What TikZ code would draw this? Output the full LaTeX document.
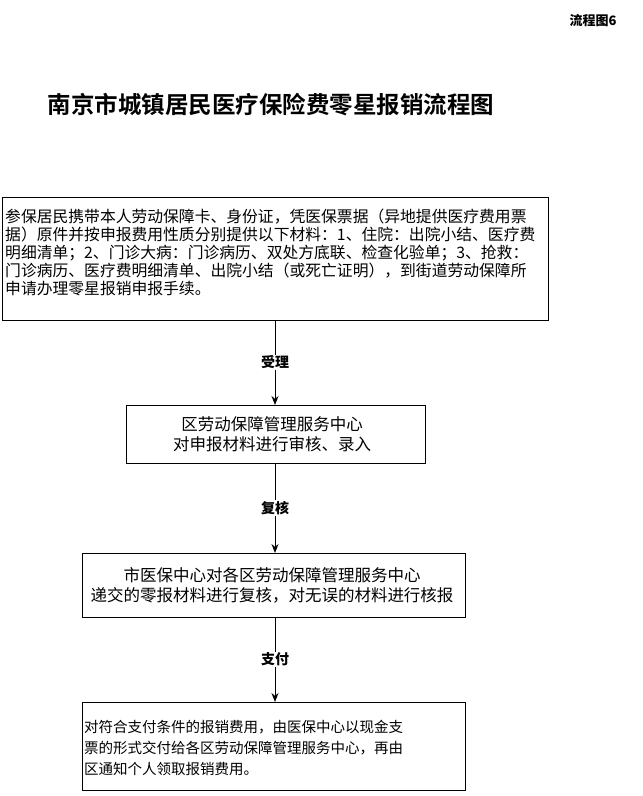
\documentclass[tikz,border=0pt]{standalone}
\usepackage{fontspec}
\setmainfont{Noto Sans CJK SC}
\newfontfamily\titlefont{Noto Sans CJK SC Bold}
\newfontfamily\medfont{Noto Sans CJK SC Medium}
\usetikzlibrary{arrows.meta}
\begin{document}
\begin{tikzpicture}[x=1pt,y=-1pt,
  box/.style={draw,line width=1pt,inner sep=0pt},
  txt/.style={font=\medfont,inner sep=0pt},
  lab/.style={font=\fontsize{14}{16}\selectfont\bfseries,fill=white,inner sep=1pt},
  arr/.style={-{Stealth[length=9pt,width=7pt]},line width=1pt}]
\useasboundingbox (0,0) rectangle (643,796);
\node[font=\fontsize{13}{14}\selectfont\bfseries] (fig) at (593,21) {流程图6};
\node[font=\titlefont\fontsize{23.5}{26}\selectfont] (title) at (271,105) {南京市城镇居民医疗保险费零星报销流程图};
\draw[box] (2,197) rectangle (548,320);
\coordinate (b1) at (275,320);
\node[txt,align=left,anchor=north west,font=\fontsize{15.8}{18}\selectfont] (t1) at (5,209) {参保居民携带本人劳动保障卡、身份证，凭医保票据（异地提供医疗费用票\\据）原件并按申报费用性质分别提供以下材料：1、住院：出院小结、医疗费\\明细清单；2、门诊大病：门诊病历、双处方底联、检查化验单；3、抢救：\\门诊病历、医疗费明细清单、出院小结（或死亡证明），到街道劳动保障所\\申请办理零星报销申报手续。};
\draw[box] (126,405) rectangle (425,463);
\node[txt,align=center,font=\fontsize{16.5}{20}\selectfont] (t2) at (272,434) {区劳动保障管理服务中心\\对申报材料进行审核、录入};
\draw[box] (82,553) rectangle (465,617);
\node[txt,align=center,font=\fontsize{16.5}{20}\selectfont] (t3) at (272,585) {市医保中心对各区劳动保障管理服务中心\\递交的零报材料进行复核，对无误的材料进行核报};
\draw[box] (82,702) rectangle (465,790);
\node[txt,align=left,anchor=west,font=\fontsize{14.5}{21}\selectfont] (t4) at (84,748) {对符合支付条件的报销费用，由医保中心以现金支\\票的形式交付给各区劳动保障管理服务中心，再由\\区通知个人领取报销费用。};
\coordinate (b2t) at (275,405); \coordinate (b2b) at (275,463);
\coordinate (b3t) at (275,553); \coordinate (b3b) at (275,617);
\coordinate (b4t) at (275,702);
\draw[arr] (b1) -- node[lab]{受理} (b2t);
\draw[arr] (b2b) -- node[lab]{复核} (b3t);
\draw[arr] (b3b) -- node[lab]{支付} (b4t);
\end{tikzpicture}
\end{document}
